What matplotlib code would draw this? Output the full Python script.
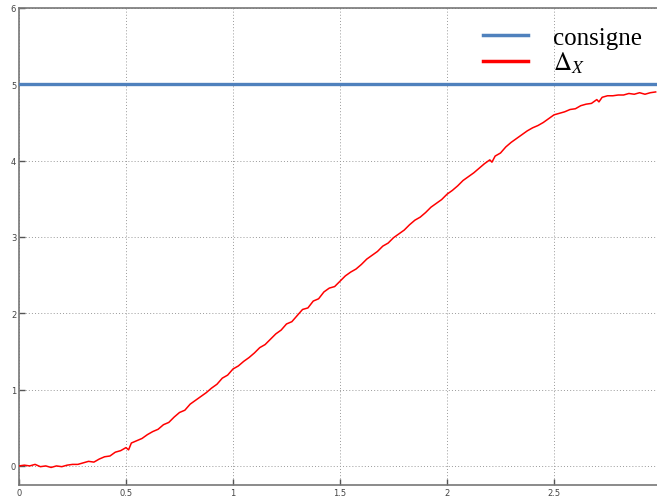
import matplotlib
matplotlib.use("Agg")
import matplotlib.pyplot as plt
from matplotlib.lines import Line2D

# Setpoint and measured displacement
consigne = 5.0
t = [0.000, 0.025, 0.050, 0.075, 0.100, 0.125, 0.150, 0.175, 0.200, 0.225,
     0.250, 0.275, 0.300, 0.325, 0.350, 0.375, 0.400, 0.425, 0.450, 0.475,
     0.500, 0.512, 0.525, 0.550, 0.575, 0.600, 0.625, 0.650, 0.675, 0.700,
     0.725, 0.750, 0.775, 0.800, 0.825, 0.850, 0.875, 0.900, 0.925, 0.950,
     0.975, 1.000, 1.025, 1.050, 1.075, 1.100, 1.125, 1.150, 1.175, 1.200,
     1.225, 1.250, 1.275, 1.300, 1.325, 1.350, 1.375, 1.400, 1.425, 1.450,
     1.475, 1.500, 1.525, 1.550, 1.575, 1.600, 1.625, 1.650, 1.675, 1.700,
     1.725, 1.750, 1.775, 1.800, 1.825, 1.850, 1.875, 1.900, 1.925, 1.950,
     1.975, 2.000, 2.025, 2.050, 2.075, 2.100, 2.125, 2.150, 2.175, 2.200,
     2.210, 2.225, 2.250, 2.275, 2.300, 2.325, 2.350, 2.375, 2.400, 2.425,
     2.450, 2.475, 2.500, 2.525, 2.550, 2.575, 2.600, 2.625, 2.650, 2.675,
     2.700, 2.710, 2.725, 2.750, 2.775, 2.800, 2.825, 2.850, 2.875, 2.900,
     2.925, 2.950, 2.975]
delta_x = [0.00, 0.01, 0.00, 0.02, -0.01, 0.00, -0.02, 0.00, -0.01, 0.01,
           0.02, 0.02, 0.04, 0.06, 0.05, 0.09, 0.12, 0.13, 0.18, 0.20,
           0.24, 0.21, 0.30, 0.33, 0.36, 0.41, 0.45, 0.48, 0.54, 0.57,
           0.64, 0.70, 0.73, 0.81, 0.86, 0.91, 0.96, 1.02, 1.07, 1.15,
           1.19, 1.27, 1.31, 1.37, 1.42, 1.48, 1.55, 1.59, 1.66, 1.73,
           1.78, 1.86, 1.89, 1.97, 2.05, 2.07, 2.16, 2.19, 2.28, 2.33,
           2.35, 2.42, 2.49, 2.54, 2.58, 2.64, 2.71, 2.76, 2.81, 2.88,
           2.92, 2.99, 3.04, 3.09, 3.16, 3.22, 3.26, 3.32, 3.39, 3.44,
           3.49, 3.56, 3.61, 3.67, 3.74, 3.79, 3.84, 3.90, 3.96, 4.01,
           3.98, 4.06, 4.10, 4.18, 4.24, 4.29, 4.34, 4.39, 4.43, 4.46,
           4.50, 4.55, 4.60, 4.62, 4.64, 4.67, 4.68, 4.72, 4.74, 4.75,
           4.80, 4.77, 4.83, 4.85, 4.85, 4.86, 4.86, 4.88, 4.87, 4.89,
           4.87, 4.89, 4.90]
x_ticks = [0, 0.5, 1, 1.5, 2, 2.5]
x_tick_labels = ["0", "0.5", "1", "1.5", "2", "2.5"]
y_ticks = [0, 1, 2, 3, 4, 5, 6]

plt.rcParams["mathtext.fontset"] = "stix"

W, H = 657, 502
fig = plt.figure(figsize=(W / 100, H / 100), dpi=100)
# axes: left 19 px, top 9 px, bottom 486 px; right side runs past the figure edge
ax = fig.add_axes([19 / W, (H - 486) / H, 642 / W, (486 - 9) / H])

ax.axhline(consigne, color="#4f81bd", lw=2.4, zorder=3)
ax.plot(t, delta_x, color="#ff0000", lw=1.1, zorder=4)

ax.set_xlim(0, 3.0)
ax.set_ylim(-0.25, 6)
ax.set_xticks(x_ticks)
ax.set_xticklabels(x_tick_labels)
ax.set_yticks(y_ticks)

ax.grid(True, color="#999999", lw=0.7, linestyle=(0, (1, 2.2)))
ax.tick_params(direction="in", length=4, width=1, color="#555555",
               labelsize=6, labelcolor="#444444", pad=2)
for sp in ax.spines.values():
    sp.set_color("#777777")
    sp.set_linewidth(1.2)

handles = [Line2D([], [], color="#4f81bd", lw=2.5),
           Line2D([], [], color="#ff0000", lw=2.5)]
leg = ax.legend(handles, ["consigne", r"$\Delta_X$"], loc="upper right",
                bbox_to_anchor=(642 / W, 1 - 27 / H), bbox_transform=fig.transFigure,
                frameon=False, prop={"family": "Liberation Serif", "size": 18},
                handlelength=1.8, handletextpad=1.0, labelspacing=0.05,
                borderaxespad=0, borderpad=0)

fig.savefig("out.png", dpi=100)
